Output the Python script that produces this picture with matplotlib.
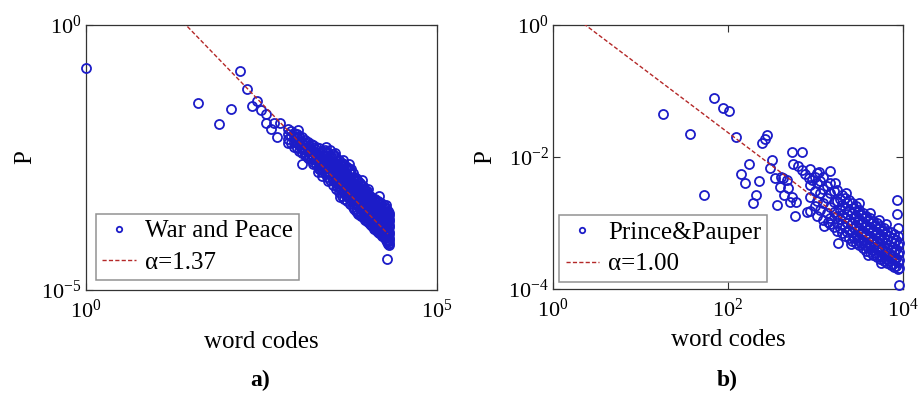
"""Rank-frequency plots of word codes for two texts, with power-law fits."""
import numpy as np
import matplotlib
matplotlib.use("Agg")
import matplotlib.pyplot as plt  # noqa: E402

plt.rcParams["font.family"] = ["Liberation Serif", "DejaVu Serif"]
plt.rcParams["mathtext.fontset"] = "custom"
plt.rcParams["mathtext.rm"] = "Liberation Serif"
plt.rcParams["mathtext.default"] = "regular"

BLUE = "#1c1cc8"
RED = "#b42828"

# ---- War and Peace (log10 word code, log10 P) ----
wp_sparse_x = [0.00, 1.60, 1.89, 2.06, 2.20, 2.30, 2.37, 2.44, 2.49, 2.56, 2.57,
               2.63, 2.68, 2.72, 2.77, 2.88, 3.02, 3.08, 3.47, 3.78, 4.29]
wp_sparse_y = [-0.82, -1.48, -1.87, -1.59, -0.86, -1.21, -1.53, -1.43, -1.60, -1.68, -1.84,
               -1.96, -1.84, -2.11, -1.84, -2.23, -1.99, -2.62, -2.35, -2.72, -4.42]
# dense band, one column of P values per code
wp_band = [
    (2.88, [-1.97, -2.06, -2.15]),
    (2.92, [-2.00, -2.10, -2.22]),
    (2.96, [-2.03, -2.12, -2.20, -2.30]),
    (3.00, [-2.05, -2.14, -2.22, -2.33]),
    (3.04, [-2.10, -2.18, -2.26, -2.38]),
    (3.08, [-2.12, -2.22, -2.30, -2.42]),
    (3.10, [-2.20, -2.30, -2.40]),
    (3.12, [-2.17, -2.26, -2.35, -2.46]),
    (3.16, [-2.20, -2.30, -2.38, -2.50]),
    (3.18, [-2.28, -2.38, -2.48]),
    (3.20, [-2.24, -2.34, -2.43, -2.53]),
    (3.24, [-2.27, -2.38, -2.47, -2.58, -2.62]),
    (3.26, [-2.34, -2.44, -2.54]),
    (3.28, [-2.30, -2.42, -2.52, -2.62]),
    (3.32, [-2.33, -2.45, -2.56, -2.66, -2.72]),
    (3.34, [-2.40, -2.52, -2.62, -2.72]),
    (3.36, [-2.37, -2.50, -2.60, -2.70, -2.77]),
    (3.40, [-2.36, -2.48, -2.60, -2.70, -2.80]),
    (3.42, [-2.42, -2.54, -2.66, -2.76]),
    (3.44, [-2.40, -2.52, -2.64, -2.76, -2.86]),
    (3.48, [-2.45, -2.57, -2.70, -2.82, -2.92]),
    (3.50, [-2.50, -2.62, -2.75, -2.88]),
    (3.52, [-2.44, -2.56, -2.68, -2.80, -2.92, -3.02]),
    (3.54, [-2.48, -2.60, -2.72, -2.85, -2.97]),
    (3.56, [-2.50, -2.62, -2.74, -2.86, -2.98, -3.10]),
    (3.58, [-2.56, -2.68, -2.80, -2.92, -3.04]),
    (3.60, [-2.55, -2.68, -2.80, -2.92, -3.04, -3.16]),
    (3.62, [-2.62, -2.74, -2.86, -2.98, -3.10]),
    (3.64, [-2.60, -2.72, -2.85, -2.98, -3.10, -3.22]),
    (3.66, [-2.66, -2.78, -2.92, -3.04, -3.16]),
    (3.68, [-2.62, -2.76, -2.90, -3.02, -3.15, -3.28]),
    (3.70, [-2.70, -2.82, -2.96, -3.08, -3.22]),
    (3.72, [-2.68, -2.82, -2.95, -3.08, -3.20, -3.33]),
    (3.74, [-2.76, -2.88, -3.02, -3.14, -3.27]),
    (3.76, [-2.74, -2.88, -3.00, -3.12, -3.25, -3.38]),
    (3.78, [-2.82, -2.94, -3.06, -3.19, -3.32]),
    (3.80, [-2.80, -2.93, -3.06, -3.18, -3.30, -3.44]),
    (3.82, [-2.86, -2.98, -3.10, -3.22, -3.36, -3.47]),
    (3.84, [-2.88, -3.00, -3.12, -3.24, -3.36, -3.50]),
    (3.86, [-2.92, -3.04, -3.16, -3.28, -3.40, -3.52]),
    (3.88, [-2.95, -3.06, -3.18, -3.30, -3.42, -3.56]),
    (3.90, [-2.98, -3.10, -3.22, -3.34, -3.46, -3.58]),
    (3.92, [-3.02, -3.12, -3.24, -3.36, -3.48, -3.60]),
    (3.94, [-3.04, -3.16, -3.28, -3.40, -3.52, -3.62]),
    (3.96, [-3.08, -3.18, -3.30, -3.42, -3.54, -3.65]),
    (3.98, [-3.12, -3.22, -3.34, -3.46, -3.58, -3.68]),
    (4.00, [-3.14, -3.24, -3.36, -3.48, -3.58, -3.70]),
    (4.02, [-3.18, -3.28, -3.40, -3.52, -3.62, -3.72]),
    (4.04, [-3.22, -3.32, -3.42, -3.54, -3.64, -3.75]),
    (4.06, [-3.24, -3.34, -3.46, -3.58, -3.68, -3.78]),
    (4.08, [-3.26, -3.36, -3.48, -3.60, -3.70, -3.80]),
    (4.10, [-3.30, -3.42, -3.54, -3.66, -3.78, -3.84]),
    (4.12, [-3.28, -3.40, -3.52, -3.64, -3.75, -3.85]),
    (4.14, [-3.34, -3.46, -3.58, -3.70, -3.82, -3.88]),
    (4.16, [-3.32, -3.44, -3.56, -3.68, -3.80, -3.90]),
    (4.18, [-3.38, -3.50, -3.62, -3.74, -3.86, -3.93]),
    (4.20, [-3.36, -3.48, -3.60, -3.72, -3.84, -3.95]),
    (4.22, [-3.42, -3.54, -3.66, -3.78, -3.90, -3.98]),
    (4.24, [-3.40, -3.52, -3.64, -3.76, -3.88, -4.00]),
    (4.26, [-3.46, -3.58, -3.70, -3.82, -3.94, -4.02]),
    (4.27, [-3.45, -3.56, -3.68, -3.80, -3.92, -4.05]),
    (4.29, [-3.52, -3.62, -3.74, -3.86, -3.98, -4.10]),
    (4.30, [-3.50, -3.60, -3.72, -3.84, -3.96, -4.08, -4.14]),
    (4.31, [-3.58, -3.70, -3.82, -3.94, -4.06, -4.16]),
    (4.32, [-3.55, -3.66, -3.78, -3.90, -4.02, -4.12]),
]
wp_extra_x = [3.42, 3.55, 3.66, 3.74, 3.93, 4.02, 4.18, 4.28, 3.30, 3.45, 3.62, 3.36]
wp_extra_y = [-2.30, -2.42, -2.55, -2.62, -2.92, -3.10, -3.22, -3.40, -2.78, -2.95, -3.25, -2.85]
wp_alpha, wp_logc, wp_xmax = 1.37, 1.95, 4.30

# ---- Prince & Pauper ----
pp_sparse_x = [1.26, 1.56, 1.73, 1.84, 1.94, 2.01, 2.09, 2.15, 2.19, 2.24, 2.29, 2.32,
               2.35, 2.39, 2.42, 2.45, 2.48, 2.50, 2.54, 2.56, 2.59, 2.60, 2.63, 2.64,
               2.67, 2.69, 2.71, 2.73, 2.73, 2.74, 2.77, 2.78, 2.80, 2.84, 2.85, 2.88,
               2.90, 2.92, 2.96, 3.17, 3.26, 3.93, 3.93, 3.94, 3.95]
pp_sparse_y = [-1.35, -1.65, -2.57, -1.10, -1.25, -1.30, -1.69, -2.25, -2.40, -2.10, -2.69, -2.57,
               -2.36, -1.79, -1.73, -1.66, -2.16, -2.05, -2.32, -2.73, -2.45, -2.30, -2.32, -2.58,
               -2.35, -2.47, -2.68, -1.93, -2.60, -2.11, -2.89, -2.68, -2.14, -2.20, -1.93, -2.25,
               -2.84, -2.32, -2.35, -2.21, -3.30, -2.65, -2.86, -3.08, -3.94]
pp_band = [
    (2.94, [-2.18, -2.43, -2.60, -2.82]),
    (2.99, [-2.30, -2.52, -2.74]),
    (3.02, [-2.24, -2.40, -2.66, -2.90]),
    (3.05, [-2.36, -2.55, -2.80]),
    (3.09, [-2.31, -2.48, -2.70, -2.96]),
    (3.13, [-2.44, -2.62, -2.85]),
    (3.17, [-2.40, -2.55, -2.76, -2.93, -3.02]),
    (3.21, [-2.52, -2.68, -2.84, -3.06]),
    (3.25, [-2.50, -2.66, -2.90, -3.00, -3.12]),
    (3.28, [-2.64, -2.80, -2.94, -3.08]),
    (3.30, [-2.58, -2.72, -2.88, -3.02, -3.15]),
    (3.34, [-2.62, -2.78, -2.92, -3.06, -3.19]),
    (3.36, [-2.70, -2.86, -3.00, -3.14]),
    (3.38, [-2.65, -2.80, -2.96, -3.10, -3.23]),
    (3.42, [-2.70, -2.85, -3.00, -3.14, -3.27]),
    (3.44, [-2.78, -2.92, -3.08, -3.22]),
    (3.46, [-2.74, -2.90, -3.04, -3.18, -3.30]),
    (3.48, [-2.84, -2.98, -3.12, -3.26]),
    (3.50, [-2.80, -2.94, -3.08, -3.22, -3.34]),
    (3.52, [-2.88, -3.02, -3.16, -3.30]),
    (3.54, [-2.85, -2.98, -3.12, -3.26, -3.38]),
    (3.56, [-2.92, -3.06, -3.20, -3.34]),
    (3.58, [-2.90, -3.03, -3.16, -3.30, -3.42]),
    (3.60, [-2.96, -3.10, -3.24, -3.38]),
    (3.62, [-2.93, -3.06, -3.20, -3.33, -3.44]),
    (3.64, [-3.00, -3.14, -3.28, -3.41]),
    (3.66, [-2.97, -3.10, -3.24, -3.37, -3.48]),
    (3.68, [-3.04, -3.18, -3.32, -3.45]),
    (3.70, [-3.00, -3.14, -3.28, -3.40, -3.51]),
    (3.72, [-3.08, -3.22, -3.36, -3.48]),
    (3.74, [-3.04, -3.18, -3.31, -3.44, -3.54]),
    (3.76, [-3.12, -3.26, -3.40, -3.52]),
    (3.78, [-3.08, -3.22, -3.35, -3.47, -3.57]),
    (3.80, [-3.16, -3.30, -3.43, -3.55]),
    (3.82, [-3.12, -3.26, -3.38, -3.50, -3.60]),
    (3.84, [-3.20, -3.34, -3.46, -3.58]),
    (3.86, [-3.14, -3.28, -3.41, -3.53, -3.63]),
    (3.88, [-3.22, -3.36, -3.50, -3.62]),
    (3.90, [-3.16, -3.30, -3.44, -3.56, -3.66]),
    (3.92, [-3.26, -3.40, -3.53, -3.65]),
    (3.94, [-3.20, -3.34, -3.47, -3.59, -3.70]),
    (3.95, [-3.30, -3.44, -3.56, -3.68]),
]
pp_extra_x = [3.35, 3.50, 3.62, 3.72, 3.80, 3.10, 3.40, 3.60, 3.75, 3.04, 3.14, 3.22]
pp_extra_y = [-2.55, -2.70, -2.85, -2.95, -3.02, -3.05, -3.32, -3.48, -3.60, -2.22, -2.98, -2.40]
pp_alpha, pp_logc, pp_xmax = 1.00, 0.37, 3.93


def gather(sx, sy, band, ex, ey):
    xs, ys = list(sx), list(sy)
    for x, col in band:
        xs += [x] * len(col)
        ys += col
    xs += ex
    ys += ey
    return 10.0 ** np.array(xs), 10.0 ** np.array(ys)


def panel(ax, x, y, alpha, logc, xmax, name, xlim, ylim, xt, yt, leg_xy):
    ax.plot(x, y, "o", mfc="none", mec=BLUE, mew=1.3, ms=6.5, clip_on=False,
            label=name, zorder=3)
    fx = np.array([1.0, 10.0 ** xmax])
    ax.plot(fx, 10.0 ** logc * fx ** -alpha, color=RED, lw=1.0,
            ls=(0, (3, 1.6)), label=f"\u03b1={alpha:.2f}", zorder=4)
    ax.set_xscale("log")
    ax.set_yscale("log")
    ax.set_xlim(*xlim)
    ax.set_ylim(*ylim)
    ax.set_xticks([10.0 ** k for k in xt])
    ax.set_xticklabels([rf"$10^{{{k}}}$" for k in xt])
    ax.set_yticks([10.0 ** k for k in yt])
    ax.set_yticklabels([rf"$10^{{{k}}}$" for k in yt])
    ax.minorticks_off()
    ax.tick_params(direction="in", length=5, width=0.8, labelsize=16,
                   top=True, right=True, color="#333333")
    ax.tick_params(axis="x", pad=7)
    ax.tick_params(axis="y", pad=3)
    for s in ax.spines.values():
        s.set_color("#333333")
        s.set_linewidth(0.9)
    ax.set_xlabel("word codes", fontsize=18, va="center")
    ax.set_ylabel("P", fontsize=18, va="center")
    leg = ax.legend(loc="lower left", bbox_to_anchor=leg_xy, borderaxespad=0,
                    fontsize=18, frameon=True, fancybox=False, markerscale=0.6,
                    handlelength=1.35, handletextpad=0.35, borderpad=0.25,
                    labelspacing=0.35)
    leg.get_frame().set_edgecolor("#777777")
    leg.get_frame().set_linewidth(1.1)


fig = plt.figure(figsize=(9.21, 3.96), dpi=100)
ax1 = fig.add_axes([86 / 921, 1 - 290 / 396, 351 / 921, 265 / 396])
ax2 = fig.add_axes([553 / 921, 1 - 289 / 396, 350 / 921, 264 / 396])

x1, y1 = gather(wp_sparse_x, wp_sparse_y, wp_band, wp_extra_x, wp_extra_y)
panel(ax1, x1, y1, wp_alpha, wp_logc, wp_xmax, "War and Peace",
      (1, 1e5), (1e-5, 1), [0, 5], [-5, 0], (0.028, 0.038))
ax1.xaxis.set_label_coords(0.5, -0.196)
ax1.yaxis.set_label_coords(-0.174, 0.5)

x2, y2 = gather(pp_sparse_x, pp_sparse_y, pp_band, pp_extra_x, pp_extra_y)
panel(ax2, x2, y2, pp_alpha, pp_logc, pp_xmax, "Prince&Pauper",
      (1, 1e4), (1e-4, 1), [0, 2, 4], [-4, -2, 0], (0.018, 0.028))
ax2.xaxis.set_label_coords(0.5, -0.192)
ax2.yaxis.set_label_coords(-0.194, 0.5)

fig.text(260 / 921, 1 - 380 / 396, "a)", fontsize=17, fontweight="bold",
         ha="center", va="center")
fig.text(727 / 921, 1 - 380 / 396, "b)", fontsize=17, fontweight="bold",
         ha="center", va="center")

fig.savefig("out.png", dpi=100)
